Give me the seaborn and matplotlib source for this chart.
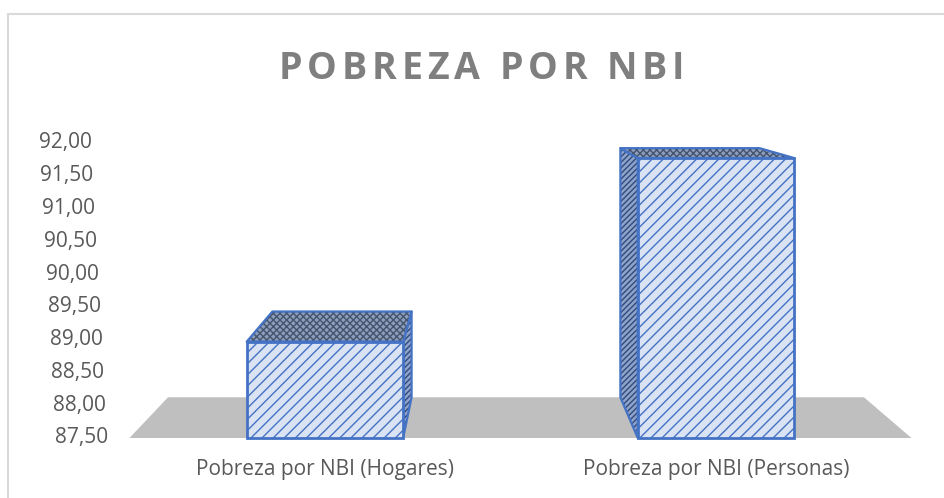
"""
Pobreza por NBI - barras con efecto 3D (perspectiva) al estilo Excel.
"""

import matplotlib
matplotlib.use("Agg")
import numpy as np
import pandas as pd
import matplotlib.pyplot as plt
from matplotlib.patches import Polygon, Rectangle
from matplotlib.transforms import ScaledTranslation
import seaborn as sns

# ── Datos ─────────────────────────────────────────────────────────────────────

CATEGORIES = ["Pobreza por NBI (Hogares)", "Pobreza por NBI (Personas)"]
VALUES = [88.97, 91.77]
Y_TICKS = [87.5, 88.0, 88.5, 89.0, 89.5, 90.0, 90.5, 91.0, 91.5, 92.0]
TITLE = "POBREZA POR NBI"

# ── Estilo ────────────────────────────────────────────────────────────────────

BLUE = "#4472C4"
FRONT_FILL = "#DAE3F3"
SIDE_FILL = "#8FA3C8"
SIDE_HATCH = "#2F4A80"
TOP_FILL = "#8C9DBE"
TOP_HATCH = "#44546A"
FLOOR = "#BFBFBF"
TEXT = "#595959"
TITLE_COLOR = "#7F7F7F"
BORDER = "#D9D9D9"

W, H, DPI = 945, 498, 100
VANISH = (0.448, 1.254)   # punto de fuga, en fracción de ejes
DEPTH = 0.89              # escala de la cara trasera
TITLE_SPACING_PX = 4.9

sns.set_style("white")
plt.rcParams["font.family"] = ["Open Sans", "DejaVu Sans"]
plt.rcParams["hatch.linewidth"] = 1.0

fig = plt.figure(figsize=(W / DPI, H / DPI), dpi=DPI)
ax = fig.add_axes([0.137, 0.1205, 0.8275, 0.5924])

df = pd.DataFrame({"categoria": CATEGORIES, "valor": VALUES})
sns.barplot(
    data=df, x="categoria", y="valor", ax=ax,
    width=0.4, color=FRONT_FILL, saturation=1,
    edgecolor=BLUE, linewidth=2, zorder=3,
)

ax.set_xlim(-0.5, 1.5)
ax.set_ylim(Y_TICKS[0], Y_TICKS[-1])
ax.set_xlabel("")
ax.set_ylabel("")
sns.despine(ax=ax, left=True, bottom=True)
ax.set_yticks(Y_TICKS)
ax.set_yticklabels([])
ax.tick_params(axis="y", length=0)
ax.tick_params(axis="x", length=0, pad=15, labelsize=15, labelcolor=TEXT)
ax.patch.set_alpha(0)


# ── Perspectiva ───────────────────────────────────────────────────────────────

def to_back(points):
    disp = ax.transData.transform(points)
    vp = ax.transAxes.transform(VANISH)
    back = vp + (disp - vp) * DEPTH
    return ax.transData.inverted().transform(back)


def add_face(points, fill, hatch, hatch_color, z):
    ax.add_patch(Polygon(points, closed=True, facecolor=fill, edgecolor=hatch_color,
                         hatch=hatch, linewidth=0, zorder=z, clip_on=False))
    ax.add_patch(Polygon(points, closed=True, fill=False, edgecolor=BLUE,
                         linewidth=1.6, zorder=z + 0.1, clip_on=False, joinstyle="round"))


y_base = Y_TICKS[0]

# piso
x_lo, x_hi = ax.get_xlim()
floor_front = np.array([[x_lo, y_base], [x_hi, y_base]])
floor_back = to_back(floor_front)
ax.add_patch(Polygon(np.vstack([floor_front, floor_back[::-1]]), closed=True,
                     facecolor=FLOOR, edgecolor="none", zorder=1, clip_on=False))

vp_x = ax.transAxes.transform(VANISH)[0]
for bar in ax.patches[:len(VALUES)]:
    top = bar.get_y() + bar.get_height()
    bar.set_y(y_base)
    bar.set_height(top - y_base)
    bar.set_clip_on(False)
    bar.set_hatch("///")
    x0, x1 = bar.get_x(), bar.get_x() + bar.get_width()

    front_top = np.array([[x0, top], [x1, top]])
    add_face(np.vstack([front_top, to_back(front_top)[::-1]]),
             TOP_FILL, "xxxxx", TOP_HATCH, 2.2)

    if ax.transData.transform((x1, top))[0] < vp_x:
        edge = np.array([[x1, top], [x1, y_base]])
    else:
        edge = np.array([[x0, top], [x0, y_base]])
    add_face(np.vstack([edge, to_back(edge)[::-1]]),
             SIDE_FILL, "//////", SIDE_HATCH, 2.0)

# ── Etiquetas del eje Y (inclinadas como en la pared 3D) ──────────────────────

axes_left_px = ax.transAxes.transform((0, 0))[0]
for v in Y_TICKS:
    right_px = 108 - (v - Y_TICKS[0]) * 3.6
    dx = (axes_left_px - right_px) / DPI
    tr = ax.get_yaxis_transform() + ScaledTranslation(-dx, 0, fig.dpi_scale_trans)
    ax.text(0, v, f"{v:.2f}".replace(".", ","), transform=tr,
            ha="right", va="center", fontsize=15, color=TEXT)

# ── Título con espaciado entre letras ─────────────────────────────────────────

renderer = fig.canvas.get_renderer()
title_kw = dict(fontsize=27, fontweight="bold", color=TITLE_COLOR)


def text_width(s):
    t = fig.text(0, 0, s + "|", **title_kw)
    w = t.get_window_extent(renderer).width
    t.remove()
    return w


bar_w = text_width("")
total = text_width(TITLE) - bar_w + (len(TITLE) - 1) * TITLE_SPACING_PX
start = 481.5 - total / 2
for i, ch in enumerate(TITLE):
    if ch == " ":
        continue
    x = start + text_width(TITLE[:i]) - bar_w + i * TITLE_SPACING_PX
    fig.text(x / W, (H - 79) / H, ch, ha="left", va="baseline", **title_kw)

# borde del gráfico
fig.add_artist(Rectangle((8 / W, -0.05), 1.0, (H - 14) / H + 0.05,
                         transform=fig.transFigure, fill=False,
                         edgecolor=BORDER, linewidth=1.5))

fig.savefig("out.png", dpi=DPI, facecolor="white")
